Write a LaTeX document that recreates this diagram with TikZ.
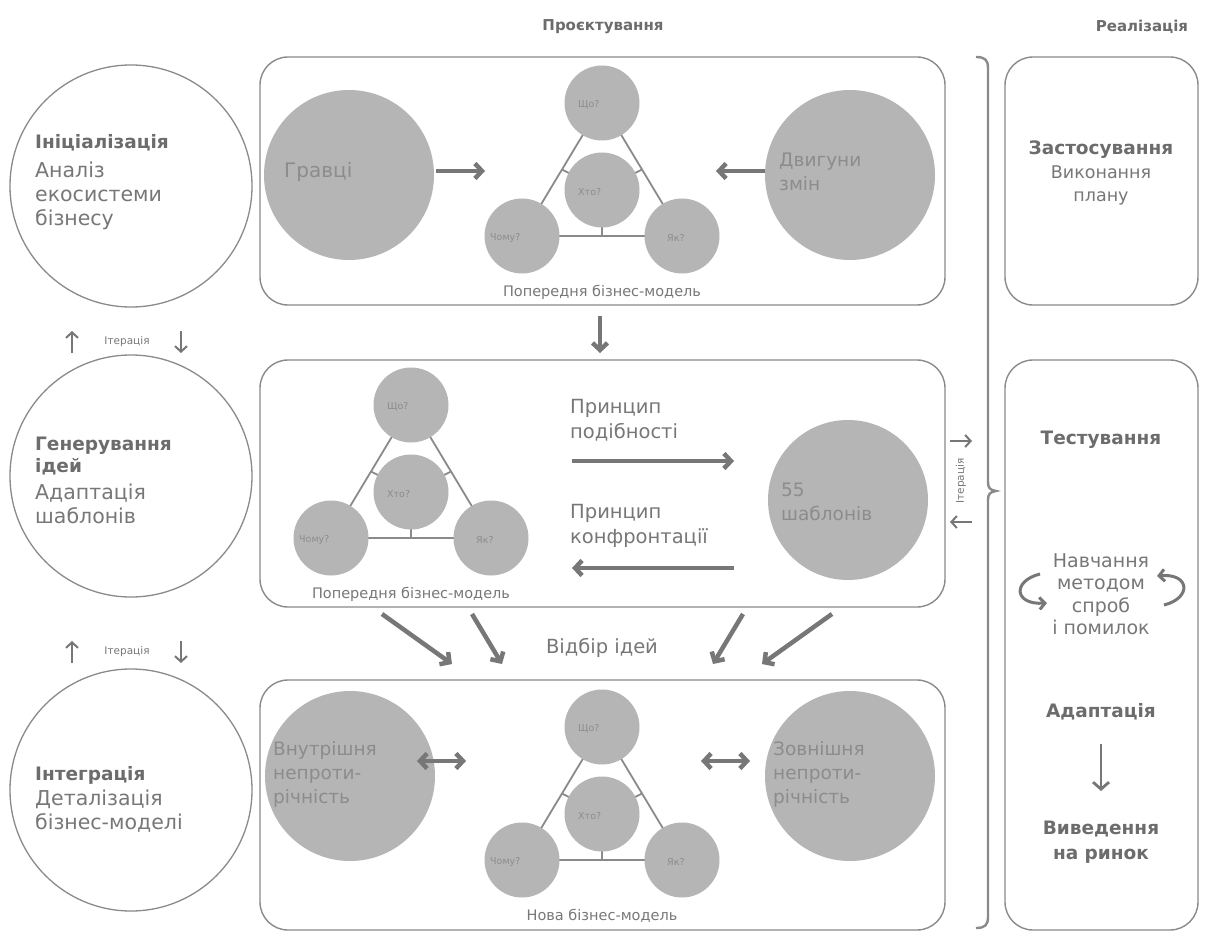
\documentclass[tikz,border=0pt]{standalone}
\usepackage{fontspec}
\setmainfont{DejaVu Sans}
\usetikzlibrary{arrows.meta,calc}

\definecolor{ink}{HTML}{777777}
\definecolor{inkdark}{HTML}{6C6C6C}
\definecolor{disc}{HTML}{B5B5B5}
\definecolor{disctext}{HTML}{8C8C8C}
\definecolor{rule}{HTML}{8A8A8A}

\pgfdeclarelayer{bg}
\pgfsetlayers{bg,main}

\tikzset{
  panel/.style={draw=rule, line width=1.4pt, rounded corners=28pt, inner sep=0pt},
  phase/.style={circle, draw=rule, line width=1.3pt, fill=white, minimum size=242pt, inner sep=0pt},
  bigdisc/.style={circle, fill=disc, minimum size=170pt, inner sep=0pt},
  smalldisc/.style={circle, fill=disc, minimum size=75pt, inner sep=0pt},
  edge/.style={draw=rule, line width=1.8pt},
  title/.style={font=\fontsize{15}{19}\selectfont\bfseries, text=inkdark},
  head/.style={font=\fontsize{18.5}{22}\selectfont\bfseries, text=inkdark, align=left, inner sep=0pt},
  body/.style={font=\fontsize{20.5}{24}\selectfont, text=ink, align=left, inner sep=0pt},
  chead/.style={font=\fontsize{18.5}{25}\selectfont\bfseries, text=inkdark, align=center, inner sep=0pt},
  cbody/.style={font=\fontsize{17.5}{23}\selectfont, text=ink, align=center, inner sep=0pt},
  lbody/.style={font=\fontsize{19}{22.5}\selectfont, text=ink, align=center, inner sep=0pt},
  disclbl/.style={font=\fontsize{18.5}{24}\selectfont, text=disctext, align=left, anchor=west, inner sep=0pt},
  qlbl/.style={font=\fontsize{9.5}{12}\selectfont, text=disctext, anchor=west, inner sep=0pt},
  caption/.style={font=\fontsize{14.5}{17}\selectfont, text=ink, inner sep=0pt},
  tiny/.style={font=\fontsize{10.5}{12}\selectfont, text=ink, inner sep=0pt},
  flowtext/.style={font=\fontsize{19.5}{25}\selectfont, text=ink, align=left, anchor=north west, inner sep=0pt},
  bigarrow/.style={draw=ink, line width=4.5pt, -{Straight Barb[length=7pt,width=15pt]}},
  twoway/.style={draw=ink, line width=4.5pt, {Straight Barb[length=7pt,width=15pt]}-{Straight Barb[length=7pt,width=15pt]}},
  thinarrow/.style={draw=ink, line width=2pt, -{Straight Barb[length=5.5pt,width=12pt]}},
  bracestyle/.style={draw=rule, line width=2.4pt}
}

% Business-model triad: four discs, the triangle joining the outer three,
% ticks from each side toward the middle disc, and a caption below.
\newcommand\bmtriad[4]{%
  \node[smalldisc] (#1t) at (#2,#3) {};
  \node[smalldisc] (#1c) at (#2,#3+87) {};
  \node[smalldisc] (#1l) at (#2-80,#3+133) {};
  \node[smalldisc] (#1r) at (#2+80,#3+133) {};
  \begin{pgfonlayer}{bg}
    \draw[edge] (#1t.center) -- (#1l.center) -- (#1r.center) -- cycle;
    \draw[edge] ($(#1t.center)!0.5!(#1l.center)$) -- (#1c.center);
    \draw[edge] ($(#1t.center)!0.5!(#1r.center)$) -- (#1c.center);
    \draw[edge] ($(#1l.center)!0.5!(#1r.center)$) -- (#1c.center);
  \end{pgfonlayer}
  \node[qlbl] (#1tq) at ($(#1t.center)+(-24,2)$) {Що?};
  \node[qlbl] (#1cq) at ($(#1c.center)+(-24,2)$) {Хто?};
  \node[qlbl] (#1lq) at ($(#1l.center)+(-32,2)$) {Чому?};
  \node[qlbl] (#1rq) at ($(#1r.center)+(-15,2)$) {Як?};
  \node[caption] (#1cap) at (#2,#3+189) {#4};
}

\begin{document}
\begin{tikzpicture}[x=1pt,y=-1pt]
\useasboundingbox (0,0) rectangle (1205,936);
\begin{pgfonlayer}{bg}
  \fill[white] (0,0) rectangle (1205,936);
\end{pgfonlayer}

% column titles
\node[title] (hdesign) at (603,27) {Проєктування};
\node[title] (hreal) at (1142,27) {Реалізація};

% phases on the left
\node[phase] (p1) at (131,186) {};
\node[phase] (p2) at (131,476) {};
\node[phase] (p3) at (131,790) {};

\node[head, anchor=north west] (p1h) at (35,134) {Ініціалізація};
\node[body, anchor=north west] (p1b) at (35,162) {Аналіз\\екосистеми\\бізнесу};

\node[head, anchor=north west] (p2h) at (35,437) {Генерування\\ідей};
\node[body, anchor=north west] (p2b) at (35,484) {Адаптація\\шаблонів};

\node[head, anchor=north west] (p3h) at (35,766) {Інтеграція};
\node[body, anchor=north west] (p3b) at (35,790) {Деталізація\\бізнес-моделі};

% iteration markers between phases
\node[tiny] (it1) at (127,342) {Ітерація};
\coordinate (it1a) at (72,353); \coordinate (it1b) at (72,331);
\coordinate (it1c) at (181,331); \coordinate (it1d) at (181,353);
\draw[thinarrow] (it1a) -- (it1b);
\draw[thinarrow] (it1c) -- (it1d);

\node[tiny] (it2) at (127,652) {Ітерація};
\coordinate (it2a) at (72,663); \coordinate (it2b) at (72,641);
\coordinate (it2c) at (181,641); \coordinate (it2d) at (181,663);
\draw[thinarrow] (it2a) -- (it2b);
\draw[thinarrow] (it2c) -- (it2d);

% design panels
\node[panel, minimum width=685pt, minimum height=248pt] (box1) at (602.5,181) {};
\node[panel, minimum width=685pt, minimum height=247pt] (box2) at (602.5,483.5) {};
\node[panel, minimum width=685pt, minimum height=250pt] (box3) at (602.5,805) {};

% panel 1: players and drivers of change
\node[bigdisc] (players) at (349,175) {};
\node[disclbl, font=\fontsize{20}{24}\selectfont] (playerst) at (284,172) {Гравці};
\node[bigdisc] (drivers) at (850,175) {};
\node[disclbl] (driverst) at (779,172) {Двигуни\\змін};
\bmtriad{a}{602}{103}{Попередня бізнес-модель}
\coordinate (a1s) at (436,171); \coordinate (a1e) at (485,171);
\coordinate (a2s) at (765,171); \coordinate (a2e) at (716,171);
\draw[bigarrow] (a1s) -- (a1e);
\draw[bigarrow] (a2s) -- (a2e);

% panel 1 to panel 2
\coordinate (d1s) at (600,316); \coordinate (d1e) at (600,353);
\draw[bigarrow] (d1s) -- (d1e);

% panel 2: adapting patterns
\bmtriad{b}{411}{405}{Попередня бізнес-модель}
\node[bigdisc, minimum size=160pt] (patterns) at (848,500) {};
\node[disclbl] (patternst) at (781,502) {55\\шаблонів};
\node[flowtext] (sim) at (570,399) {Принцип\\подібності};
\node[flowtext] (conf) at (570,504) {Принцип\\конфронтації};
\coordinate (b1s) at (572,461); \coordinate (b1e) at (734,461);
\coordinate (b2s) at (734,568); \coordinate (b2e) at (572,568);
\draw[bigarrow] (b1s) -- (b1e);
\draw[bigarrow] (b2s) -- (b2e);

% idea selection
\node[flowtext, anchor=center] (select) at (602,648) {Відбір ідей};
\coordinate (s1s) at (382,614); \coordinate (s1e) at (452,664);
\coordinate (s2s) at (472,614); \coordinate (s2e) at (502,664);
\coordinate (s3s) at (743,614); \coordinate (s3e) at (713,664);
\coordinate (s4s) at (832,614); \coordinate (s4e) at (762,664);
\draw[bigarrow] (s1s) -- (s1e);
\draw[bigarrow] (s2s) -- (s2e);
\draw[bigarrow] (s3s) -- (s3e);
\draw[bigarrow] (s4s) -- (s4e);

% panel 3: integration
\node[bigdisc] (inner) at (350,776) {};
\node[disclbl] (innert) at (273,774) {Внутрішня\\непроти-\\річність};
\node[bigdisc] (outer) at (850,776) {};
\node[disclbl] (outert) at (773,774) {Зовнішня\\непроти-\\річність};
\bmtriad{c}{602}{727}{Нова бізнес-модель}
\coordinate (c1s) at (417,761); \coordinate (c1e) at (466,761);
\coordinate (c2s) at (701,761); \coordinate (c2e) at (750,761);
\draw[twoway] (c1s) -- (c1e);
\draw[twoway] (c2s) -- (c2e);

% iteration between design and realisation
\node[tiny, rotate=90] (it3) at (961,481) {Ітерація};
\coordinate (r1s) at (950,441); \coordinate (r1e) at (972,441);
\coordinate (r2s) at (972,522); \coordinate (r2e) at (950,522);
\draw[thinarrow] (r1s) -- (r1e);
\draw[thinarrow] (r2s) -- (r2e);

% brace grouping the design phase
\draw[bracestyle] (976,57) .. controls (985,57) and (988,60) .. (988,68)
  -- (988,482) .. controls (988,488) and (990,490) .. (996,491)
  .. controls (990,492) and (988,494) .. (988,500)
  -- (988,917) .. controls (988,925) and (985,928) .. (976,928);

% realisation panels
\node[panel, minimum width=193pt, minimum height=248pt] (rbox1) at (1101.5,181) {};
\node[panel, minimum width=193pt, minimum height=570pt] (rbox2) at (1101.5,645) {};

\node[chead] (apply) at (1101,150) {Застосування};
\node[cbody, anchor=north] (applyb) at (1101,166) {Виконання\\плану};

\node[chead] (test) at (1101,440) {Тестування};
\node[lbody, anchor=north] (learn) at (1101,553) {Навчання\\методом\\спроб\\і помилок};
\coordinate (l1s) at (1040,574); \coordinate (l1e) at (1047,603);
\draw[thinarrow, line width=3pt] (l1s) .. controls (1012,581) and (1014,605) .. (l1e);
\coordinate (l2s) at (1164,605); \coordinate (l2e) at (1157,576);
\draw[thinarrow, line width=3pt] (l2s) .. controls (1192,598) and (1190,573) .. (l2e);

\node[chead] (adapt) at (1101,712) {Адаптація};
\coordinate (adS) at (1101,744); \coordinate (adE) at (1101,791);
\draw[thinarrow, line width=2.8pt, -{Straight Barb[length=7pt,width=16pt]}] (adS) -- (adE);
\node[chead, anchor=north] (launch) at (1101,821) {Виведення\\на ринок};

\end{tikzpicture}
\end{document}
